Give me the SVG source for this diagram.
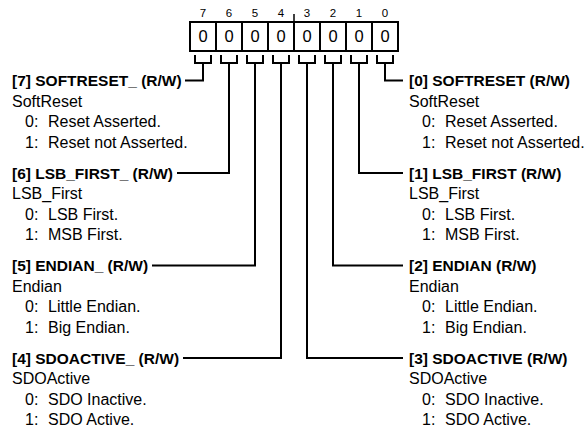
<svg xmlns="http://www.w3.org/2000/svg" width="587" height="431" viewBox="0 0 587 431">
<style>
text{font-family:"Liberation Sans",Arial,sans-serif;fill:#000}
.h{font-size:15.5px;font-weight:bold}
.t{font-size:16px}
.n{font-size:11.5px;text-anchor:middle}
.v{font-size:16.5px;text-anchor:middle}
.ln{fill:none;stroke:#000;stroke-width:2}
</style>
<rect width="587" height="431" fill="#fff"/>
<g id="register">
<rect x="190" y="22" width="208" height="29" class="ln"/>
<path class="ln" d="M216 22V51M242 22V51M268 22V51M294 22V51M320 22V51M346 22V51M372 22V51"/>
<line x1="294" y1="14" x2="294" y2="22" stroke="#000" stroke-width="1.5"/>
<text class="n" x="203" y="17">7</text><text class="n" x="229" y="17">6</text><text class="n" x="255" y="17">5</text><text class="n" x="281" y="17">4</text><text class="n" x="307" y="17">3</text><text class="n" x="333" y="17">2</text><text class="n" x="359" y="17">1</text><text class="n" x="385" y="17">0</text>
<text class="v" x="203" y="42">0</text><text class="v" x="229" y="42">0</text><text class="v" x="255" y="42">0</text><text class="v" x="281" y="42">0</text><text class="v" x="307" y="42">0</text><text class="v" x="333" y="42">0</text><text class="v" x="359" y="42">0</text><text class="v" x="385" y="42">0</text>
</g>
<g id="connectors" class="ln">
<path d="M195 55V63H211V55M203 63V80.5H185"/>
<path d="M221 55V63H237V55M229 63V173H177"/>
<path d="M247 55V63H263V55M255 63V265.5H152"/>
<path d="M273 55V63H289V55M281 63V358H183"/>
<path d="M299 55V63H315V55M307 63V358H403"/>
<path d="M325 55V63H341V55M333 63V265.5H403"/>
<path d="M351 55V63H367V55M359 63V173H403"/>
<path d="M377 55V63H393V55M385 63V80.5H403"/>
</g>
<g id="bit7">
<text class="h" x="12" y="86">[7] SOFTRESET_ (R/W)</text>
<text class="t" x="12" y="106.5">SoftReset</text>
<text class="t" x="25" y="127">0:</text><text class="t" x="48" y="127">Reset Asserted.</text>
<text class="t" x="25" y="147.5">1:</text><text class="t" x="48" y="147.5">Reset not Asserted.</text>
</g>
<g id="bit6">
<text class="h" x="12" y="178.5">[6] LSB_FIRST_ (R/W)</text>
<text class="t" x="12" y="199">LSB_First</text>
<text class="t" x="25" y="219.5">0:</text><text class="t" x="48" y="219.5">LSB First.</text>
<text class="t" x="25" y="240">1:</text><text class="t" x="48" y="240">MSB First.</text>
</g>
<g id="bit5">
<text class="h" x="12" y="271">[5] ENDIAN_ (R/W)</text>
<text class="t" x="12" y="291.5">Endian</text>
<text class="t" x="25" y="312">0:</text><text class="t" x="48" y="312">Little Endian.</text>
<text class="t" x="25" y="332.5">1:</text><text class="t" x="48" y="332.5">Big Endian.</text>
</g>
<g id="bit4">
<text class="h" x="12" y="363.5">[4] SDOACTIVE_ (R/W)</text>
<text class="t" x="12" y="384">SDOActive</text>
<text class="t" x="25" y="404.5">0:</text><text class="t" x="48" y="404.5">SDO Inactive.</text>
<text class="t" x="25" y="425">1:</text><text class="t" x="48" y="425">SDO Active.</text>
</g>
<g id="bit0">
<text class="h" x="409" y="86">[0] SOFTRESET (R/W)</text>
<text class="t" x="409" y="106.5">SoftReset</text>
<text class="t" x="422" y="127">0:</text><text class="t" x="445" y="127">Reset Asserted.</text>
<text class="t" x="422" y="147.5">1:</text><text class="t" x="445" y="147.5">Reset not Asserted.</text>
</g>
<g id="bit1">
<text class="h" x="409" y="178.5">[1] LSB_FIRST (R/W)</text>
<text class="t" x="409" y="199">LSB_First</text>
<text class="t" x="422" y="219.5">0:</text><text class="t" x="445" y="219.5">LSB First.</text>
<text class="t" x="422" y="240">1:</text><text class="t" x="445" y="240">MSB First.</text>
</g>
<g id="bit2">
<text class="h" x="409" y="271">[2] ENDIAN (R/W)</text>
<text class="t" x="409" y="291.5">Endian</text>
<text class="t" x="422" y="312">0:</text><text class="t" x="445" y="312">Little Endian.</text>
<text class="t" x="422" y="332.5">1:</text><text class="t" x="445" y="332.5">Big Endian.</text>
</g>
<g id="bit3">
<text class="h" x="409" y="363.5">[3] SDOACTIVE (R/W)</text>
<text class="t" x="409" y="384">SDOActive</text>
<text class="t" x="422" y="404.5">0:</text><text class="t" x="445" y="404.5">SDO Inactive.</text>
<text class="t" x="422" y="425">1:</text><text class="t" x="445" y="425">SDO Active.</text>
</g>
</svg>
